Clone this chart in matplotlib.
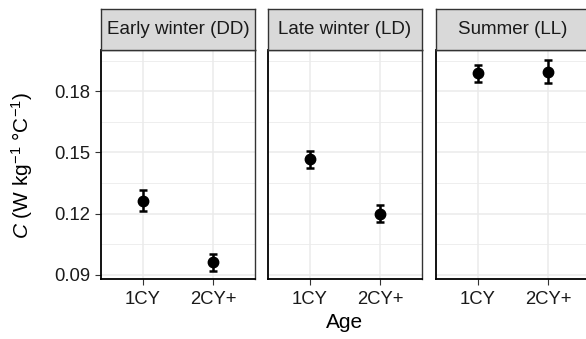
import matplotlib
matplotlib.use("Agg")
import matplotlib.pyplot as plt

plt.rcParams['font.family'] = ['Liberation Sans', 'DejaVu Sans']
plt.rcParams['mathtext.fontset'] = 'custom'
plt.rcParams['mathtext.rm'] = 'Liberation Sans'
plt.rcParams['mathtext.it'] = 'Liberation Sans:italic'

# Data
seasons = ["Early winter (DD)", "Late winter (LD)", "Summer (LL)"]
ages = ["1CY", "2CY+"]
means = {
    "Early winter (DD)": [0.1264, 0.0962],
    "Late winter (LD)": [0.1466, 0.1199],
    "Summer (LL)": [0.1887, 0.1895],
}
errors = {
    "Early winter (DD)": [0.0053, 0.0042],
    "Late winter (LD)": [0.0042, 0.0042],
    "Summer (LL)": [0.0043, 0.0057],
}
yticks = [0.09, 0.12, 0.15, 0.18]
yminor = [0.105, 0.135, 0.165, 0.195]

W, H = 586, 339
fig = plt.figure(figsize=(W / 100, H / 100), dpi=100)

lefts = [101, 268, 436]
pw = 154
top, bottom = 50, 279
strip_top = 9
border = '#333333'

for i, s in enumerate(seasons):
    ax = fig.add_axes([lefts[i] / W, 1 - bottom / H, pw / W, (bottom - top) / H])
    x = list(range(1, len(ages) + 1))
    ax.errorbar(x, means[s], yerr=errors[s], fmt='o', color='black',
                markersize=7.5, elinewidth=1.8, capsize=3, capthick=1.8, zorder=3)
    ax.set_xlim(0.4, 2.6)
    ax.set_ylim(0.0880, 0.2002)
    ax.set_xticks(x)
    ax.set_xticklabels(ages)
    ax.set_yticks(yticks)
    ax.set_yticks(yminor, minor=True)
    ax.grid(True, which='major', color='#EBEBEB', lw=1.1, zorder=0)
    ax.grid(True, which='minor', axis='y', color='#EBEBEB', lw=0.6, zorder=0)
    ax.set_axisbelow(True)
    for sp in ax.spines.values():
        sp.set_color(border)
        sp.set_linewidth(1.0)
    ax.spines['left'].set_color('black')
    ax.spines['bottom'].set_color('black')
    ax.spines['left'].set_linewidth(1.3)
    ax.spines['bottom'].set_linewidth(1.3)
    ax.tick_params(axis='both', which='major', length=4, width=0.8, color=border,
                   labelsize=13.3, labelcolor='#1a1a1a')
    ax.tick_params(axis='x', which='major', pad=5)
    ax.tick_params(axis='y', which='major', pad=4)
    ax.tick_params(axis='both', which='minor', length=0)
    if i == 0:
        ax.set_yticklabels([f"{v:.2f}" for v in yticks])
    else:
        ax.tick_params(axis='y', which='major', length=0, labelleft=False)
    # strip
    sax = fig.add_axes([lefts[i] / W, 1 - top / H, pw / W, (top - strip_top) / H])
    sax.set_xticks([]); sax.set_yticks([])
    sax.set_facecolor('#D9D9D9')
    for sp in sax.spines.values():
        sp.set_color(border)
        sp.set_linewidth(1.0)
    sax.text(0.5, 0.5, s, ha='center', va='center', fontsize=13.5,
             color='#1a1a1a', transform=sax.transAxes)

fig.text(345 / W, 1 - 328 / H, "Age", ha='center', va='baseline', fontsize=15, color='black')
fig.text(22 / W, 1 - 165 / H, r'$C$ (W kg$^{-1}$ °C$^{-1}$)', ha='center', va='center',
         rotation=90, fontsize=15, color='black')

fig.savefig("out.png", dpi=100)
